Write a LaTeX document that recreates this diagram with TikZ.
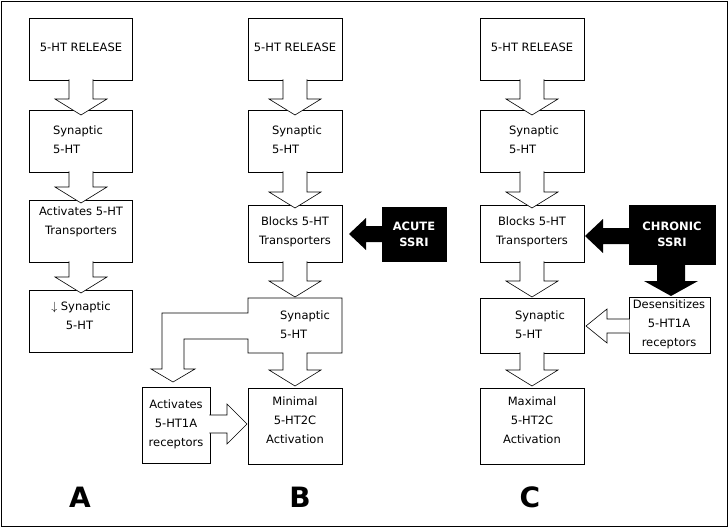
\documentclass[tikz,border=0pt]{standalone}
\usepackage{fontspec}
\setmainfont{DejaVu Sans}
\usepackage{tikz}

% open block arrow pointing down: centre x, top y, tip y
\newcommand{\openarrowdown}[3]{%
  \filldraw[fill=white] (#1-12,#2-0.6) -- (#1-12,#3-16) -- (#1-26,#3-16) -- (#1,#3)
    -- (#1+26,#3-16) -- (#1+12,#3-16) -- (#1+12,#2-0.6);
}

\tikzset{
  box/.style={draw, line width=0.6pt},
  txt/.style={font=\fontsize{11.5}{19}\selectfont, align=center},
  txtl/.style={font=\fontsize{11.5}{19}\selectfont, align=left},
  ssri/.style={font=\fontsize{11.5}{16}\selectfont\bfseries, text=white, align=center},
  panel/.style={font=\fontsize{28}{30}\selectfont\bfseries}
}

\begin{document}
\begin{tikzpicture}[x=1pt,y=-1pt,line width=0.6pt]
\useasboundingbox (0,0) rectangle (728,527);
\draw (1,1) rectangle (727,526);

% column A
\draw[box] (29,18) rectangle (132,80);
\draw[box] (29,110) rectangle (132,172);
\draw[box] (29,200) rectangle (132,262);
\draw[box] (29,290) rectangle (132,352);
\openarrowdown{81}{80}{115}
\openarrowdown{81}{172}{203}
\openarrowdown{81}{262}{293}
\node[txt] (a1) at (81,47) {5-HT RELEASE};
\node[txtl] (a2) at (78,140) {Synaptic\\5-HT};
\node[txt] (a3) at (81,222) {Activates 5-HT\\Transporters};
\node[txtl] (a4) at (81,316) {$\downarrow$ Synaptic\\\ \ \ \ 5-HT};

% column B
\draw[box] (248,18) rectangle (342,80);
\draw[box] (248,110) rectangle (342,172);
\draw[box] (248,205) rectangle (342,262);
\draw[box] (248,388) rectangle (342,464);
\draw[box] (142,387) rectangle (210,463);
\openarrowdown{295}{80}{115}
\openarrowdown{295}{172}{208}
\openarrowdown{295}{262}{297}
\filldraw[fill=white] (248,298) -- (342,298) -- (342,353) -- (307,353) -- (307,370)
  -- (321,370) -- (295,386) -- (269,370) -- (283,370) -- (283,353) -- (248,353)
  -- (248,339) -- (184,339) -- (184,369) -- (195,369) -- (173,382) -- (151,369)
  -- (162,369) -- (162,313) -- (248,313) -- cycle;
\filldraw[fill=white] (209.4,415) -- (227,415) -- (227,404) -- (247,424) -- (227,444)
  -- (227,433) -- (209.4,433);
\fill (382,207) rectangle (447,262);
\fill (382.5,226) -- (366,226) -- (366,218) -- (349,234) -- (366,250) -- (366,242)
  -- (382.5,242) -- cycle;
\node[txt] (b1) at (295,47) {5-HT RELEASE};
\node[txtl] (b2) at (297,140) {Synaptic\\5-HT};
\node[txt] (b3) at (295,232) {Blocks 5-HT\\Transporters};
\node[txtl] (b4) at (305,325) {Synaptic\\5-HT};
\node[txt] (b5) at (295,420) {Minimal\\5-HT2C\\Activation};
\node[txt] (b6) at (176,424) {Activates\\5-HT1A\\receptors};
\node[ssri] (acute) at (414,234) {ACUTE\\SSRI};

% column C
\draw[box] (480,18) rectangle (584,80);
\draw[box] (480,110) rectangle (584,172);
\draw[box] (480,205) rectangle (584,262);
\draw[box] (480,298) rectangle (584,353);
\draw[box] (480,388) rectangle (584,464);
\draw[box] (629,297) rectangle (710,353);
\openarrowdown{532}{80}{115}
\openarrowdown{532}{172}{208}
\openarrowdown{532}{262}{297}
\openarrowdown{532}{353}{386}
\filldraw[fill=white] (629.6,319) -- (607,319) -- (607,309) -- (586,326) -- (607,343)
  -- (607,333) -- (629.6,333);
\fill (629,205) rectangle (716,265);
\fill (629.5,228) -- (603,228) -- (603,219) -- (585,236) -- (603,253) -- (603,244)
  -- (629.5,244) -- cycle;
\fill (657,264.5) -- (657,281) -- (644,281) -- (671,296) -- (698,281) -- (685,281)
  -- (685,264.5) -- cycle;
\node[txt] (c1) at (532,47) {5-HT RELEASE};
\node[txtl] (c2) at (534,140) {Synaptic\\5-HT};
\node[txt] (c3) at (532,232) {Blocks 5-HT\\Transporters};
\node[txtl] (c4) at (540,325) {Synaptic\\5-HT};
\node[txt] (c5) at (532,420) {Maximal\\5-HT2C\\Activation};
\node[txt] (c6) at (669,324) {Desensitizes\\5-HT1A\\receptors};
\node[ssri] (chronic) at (672,234) {CHRONIC\\SSRI};

% panel letters
\node[panel] (la) at (80,497) {A};
\node[panel] (lb) at (300,497) {B};
\node[panel] (lc) at (530,497) {C};
\end{tikzpicture}
\end{document}
